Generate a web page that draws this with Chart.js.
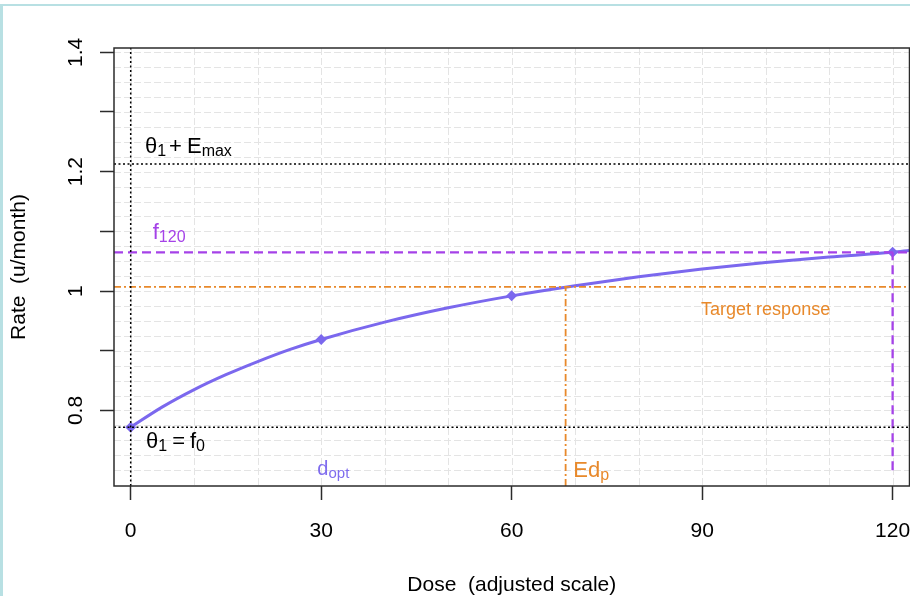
<!DOCTYPE html>
<html>
<head>
<meta charset="utf-8">
<script src="https://cdn.jsdelivr.net/npm/chart.js@4.4.1/dist/chart.umd.min.js"></script>
<style>
  html, body { margin: 0; padding: 0; background: #fff; overflow: hidden; }
  #frame { position: absolute; left: 0; top: 4px; width: 930px; height: 620px;
           border-top: 2px solid #b8e0e3; border-left: 3px solid #b8e0e3; }
  #wrap { position: absolute; left: 0; top: 0; width: 910px; height: 596px; overflow: hidden; }
</style>
</head>
<body>
<div id="frame"></div>
<div id="wrap"><canvas id="chart" width="915" height="596"></canvas></div>
<script>
// axis limits
const doseMin = -2.63;
const doseMax = 122.66;
const rateMin = 0.6735;
const rateMax = 1.4072;

// ticks and grid
const doseTicks = [0, 30, 60, 90, 120];
const doseTickLabels = ['0', '30', '60', '90', '120'];
const doseGrid = [0, 10, 20, 30, 40, 50, 60, 70, 80, 90, 100, 110, 120];
const rateTicks = [0.8, 0.9, 1.0, 1.1, 1.2, 1.3, 1.4];
const rateTickLabels = ['0.8', '', '1', '', '1.2', '', '1.4'];
const rateGrid = [0.7, 0.725, 0.75, 0.775, 0.8, 0.825, 0.85, 0.875, 0.9, 0.925, 0.95, 0.975,
  1.0, 1.025, 1.05, 1.075, 1.1, 1.125, 1.15, 1.175, 1.2, 1.225, 1.25, 1.275, 1.3, 1.325,
  1.35, 1.375, 1.4];

// fitted dose-response curve
const curveDose = [0, 5, 10, 15, 20, 25, 30, 40, 50, 60, 70, 80, 90, 100, 110, 120, 122.66];
const curveRate = [0.772, 0.806, 0.835, 0.860, 0.882, 0.902, 0.919, 0.948, 0.972, 0.992,
  1.009, 1.024, 1.037, 1.048, 1.057, 1.065, 1.068];

// design doses
const designDose = [0, 30, 60, 120];
const designRate = [0.772, 0.919, 0.992, 1.065];

// reference levels
const f0 = 0.772;
const emaxLevel = 1.213;
const f120 = 1.065;
const targetRate = 1.007;
const edp = 68.5;
const f120Floor = 0.70;

const FONT = '"Liberation Sans", Arial, Helvetica, sans-serif';
const CURVE = '#7B68EE';
const PURPLE = '#A542E8';
const ORANGE = '#E8892B';
const AXIS = '#2b2b2b';

function pts(xs, ys) {
  return xs.map((x, i) => ({ x: x, y: ys[i] }));
}

function refLine(data, color, width, dash) {
  return {
    data: data,
    borderColor: color,
    borderWidth: width,
    borderDash: dash,
    pointRadius: 0,
    tension: 0,
    fill: false,
  };
}

function drawRich(ctx, x, y, parts, color) {
  let cx = x;
  ctx.fillStyle = color;
  ctx.textAlign = 'left';
  ctx.textBaseline = 'alphabetic';
  parts.forEach(function (p) {
    ctx.font = p[1] + 'px ' + FONT;
    ctx.fillText(p[0], cx, y + p[2]);
    cx += ctx.measureText(p[0]).width + (p[3] || 0);
  });
}

const decorations = {
  id: 'decorations',
  beforeDatasetsDraw(chart) {
    const { ctx, chartArea: a, scales } = chart;
    ctx.save();
    ctx.strokeStyle = '#e4e4e4';
    ctx.lineWidth = 1;
    ctx.setLineDash([7, 3]);
    doseGrid.forEach(function (v) {
      const px = Math.round(scales.x.getPixelForValue(v)) + 0.5;
      ctx.beginPath();
      ctx.moveTo(px, a.top);
      ctx.lineTo(px, a.bottom);
      ctx.stroke();
    });
    rateGrid.forEach(function (v) {
      const py = Math.round(scales.y.getPixelForValue(v)) + 0.5;
      ctx.beginPath();
      ctx.moveTo(a.left, py);
      ctx.lineTo(a.right, py);
      ctx.stroke();
    });
    ctx.restore();
  },
  afterDatasetsDraw(chart) {
    const { ctx, chartArea: a, scales } = chart;
    const sx = scales.x, sy = scales.y;
    ctx.save();
    // plot box
    ctx.strokeStyle = AXIS;
    ctx.lineWidth = 1.5;
    ctx.setLineDash([]);
    ctx.strokeRect(a.left, a.top, a.right - a.left, a.bottom - a.top);

    // tick labels
    ctx.fillStyle = '#000';
    ctx.font = '21px ' + FONT;
    ctx.textAlign = 'center';
    ctx.textBaseline = 'alphabetic';
    doseTicks.forEach(function (v, i) {
      ctx.fillText(doseTickLabels[i], sx.getPixelForValue(v), 537);
    });
    rateTicks.forEach(function (v, i) {
      if (!rateTickLabels[i]) return;
      ctx.save();
      ctx.translate(82, sy.getPixelForValue(v));
      ctx.rotate(-Math.PI / 2);
      ctx.fillText(rateTickLabels[i], 0, 0);
      ctx.restore();
    });

    // annotations
    drawRich(ctx, sx.getPixelForValue(2.25), sy.getPixelForValue(1.231),
      [['\u03B8', 22, 0, 0], ['1', 16, 3, 3], ['+', 22, 0, 5], ['E', 22, 0, 0], ['max', 16, 3, 0]], '#000');
    drawRich(ctx, sx.getPixelForValue(2.41), sy.getPixelForValue(0.737),
      [['\u03B8', 22, 0, 0], ['1', 16, 3, 5], ['=', 22, 0, 5], ['f', 22, 0, 0], ['0', 16, 3, 0]], '#000');
    drawRich(ctx, sx.getPixelForValue(3.47), sy.getPixelForValue(1.087),
      [['f', 22, 0, 0], ['120', 16, 3, 0]], PURPLE);
    drawRich(ctx, sx.getPixelForValue(29.4), sy.getPixelForValue(0.692),
      [['d', 20, 0, 0], ['opt', 15, 3, 0]], '#7F6CEE');
    drawRich(ctx, sx.getPixelForValue(69.7), sy.getPixelForValue(0.688),
      [['Ed', 22, 0, 0], ['p', 16, 3, 0]], ORANGE);

    ctx.fillStyle = ORANGE;
    ctx.font = '18px ' + FONT;
    ctx.textAlign = 'center';
    ctx.fillText('Target response', sx.getPixelForValue(100), sy.getPixelForValue(0.96));
    ctx.restore();
  },
};

document.addEventListener('DOMContentLoaded', function () {
  const ctx = document.getElementById('chart').getContext('2d');

  new Chart(ctx, {
    type: 'line',
    data: {
      datasets: [
        refLine([{ x: doseMin, y: emaxLevel }, { x: doseMax, y: emaxLevel }], '#000', 1.5, [2, 2.5]),
        refLine([{ x: doseMin, y: f0 }, { x: doseMax, y: f0 }], '#000', 1.5, [2, 2.5]),
        refLine([{ x: 0, y: rateMin }, { x: 0, y: rateMax }], '#000', 1.5, [2, 2.5]),
        refLine([{ x: doseMin, y: targetRate }, { x: doseMax, y: targetRate }], ORANGE, 1.8, [7, 3, 2, 3]),
        refLine([{ x: edp, y: rateMin }, { x: edp, y: targetRate }], ORANGE, 1.8, [7, 3, 2, 3]),
        refLine([{ x: doseMin, y: f120 }, { x: doseMax, y: f120 }], PURPLE, 2.3, [9, 5]),
        refLine([{ x: 120, y: f120Floor }, { x: 120, y: f120 }], PURPLE, 2.3, [9, 5]),
        {
          data: pts(curveDose, curveRate),
          borderColor: CURVE,
          borderWidth: 3,
          pointRadius: 0,
          cubicInterpolationMode: 'monotone',
          fill: false,
        },
        {
          type: 'scatter',
          data: pts(designDose, designRate),
          showLine: false,
          pointStyle: 'rectRot',
          pointRadius: 5.5,
          backgroundColor: CURVE,
          borderColor: CURVE,
          borderWidth: 0,
          clip: false,
        },
      ],
    },
    options: {
      responsive: false,
      animation: false,
      layout: { padding: { top: 48, right: 0, left: 0, bottom: 0 } },
      plugins: { legend: { display: false }, tooltip: { enabled: false } },
      scales: {
        x: {
          type: 'linear',
          min: doseMin,
          max: doseMax,
          afterBuildTicks: function (s) { s.ticks = doseTicks.map(function (v) { return { value: v }; }); },
          afterFit: function (s) { s.height = 110; },
          ticks: { display: false },
          grid: { drawOnChartArea: false, drawTicks: true, tickLength: 14, tickColor: AXIS, tickWidth: 1.5 },
          border: { display: false },
          title: {
            display: true,
            text: 'Dose  (adjusted scale)',
            color: '#000',
            font: { family: FONT, size: 21, lineHeight: 1 },
            padding: 0,
          },
        },
        y: {
          type: 'linear',
          min: rateMin,
          max: rateMax,
          afterBuildTicks: function (s) { s.ticks = rateTicks.map(function (v) { return { value: v }; }); },
          afterFit: function (s) { s.width = 114; },
          ticks: { display: false },
          grid: { drawOnChartArea: false, drawTicks: true, tickLength: 14, tickColor: AXIS, tickWidth: 1.5 },
          border: { display: false },
          title: {
            display: true,
            text: 'Rate  (u/month)',
            color: '#000',
            font: { family: FONT, size: 21, lineHeight: 1 },
            padding: { top: 9, bottom: 0 },
          },
        },
      },
    },
    plugins: [decorations],
  });
});
</script>
</body>
</html>
